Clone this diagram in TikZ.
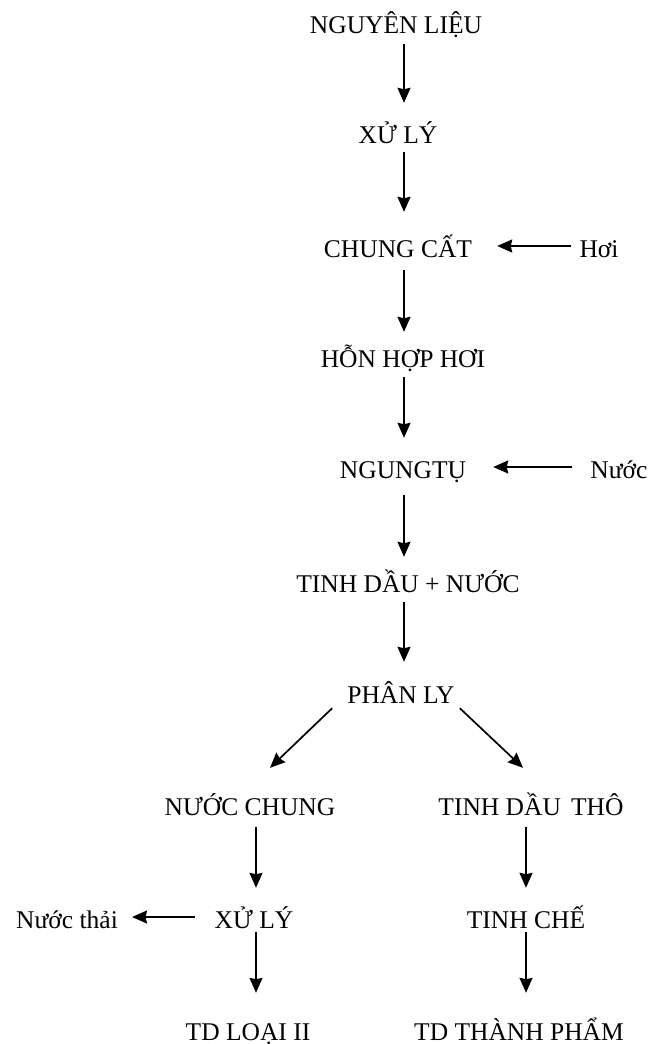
\documentclass[tikz,border=0pt]{standalone}
\usepackage{fontspec}
\setmainfont{Liberation Serif}
\usetikzlibrary{arrows.meta,calc}
\begin{document}
\begin{tikzpicture}[x=1pt,y=-1pt,
  lbl/.style={inner sep=0pt, text height=22pt, text depth=0pt, anchor=base,
    font=\fontsize{25.5}{30}\selectfont},
  flow/.style={line width=1.7pt, -{Stealth[length=15pt,width=13pt,inset=1.5pt]}},
  down/.style={flow, shorten <=11pt, shorten >=18pt}]
\useasboundingbox (0,0) rectangle (650,1044);

% column guides for the vertical arrows
\coordinate (ax) at (404,0);
\coordinate (lx) at (256,0);
\coordinate (rx) at (526,0);

% main column
\node[lbl] (nl)    at (396,33)  {NGUYÊN LIỆU};
\node[lbl] (xl)    at (398,143) {XỬ LÝ};
\node[lbl] (cc)    at (398,257) {CHUNG CẤT};
\node[lbl] (hoi)   at (599,257) {Hơi};
\node[lbl] (hh)    at (403,367) {HỖN HỢP HƠI};
\node[lbl] (nt)    at (403,478) {NGUNGTỤ};
\node[lbl] (nuoc)  at (619,478) {Nước};
\node[lbl] (tdn)   at (408,592) {TINH DẦU + NƯỚC};
\node[lbl] (pl)    at (401,703) {PHÂN LY};

% left branch
\node[lbl] (nc)    at (250,815)  {NƯỚC CHUNG};
\node[lbl] (xl2)   at (254,928)  {XỬ LÝ};
\node[lbl] (thai)  at (67,928)   {Nước thải};
\node[lbl] (loai2) at (248,1040) {TD LOẠI II};

% right branch
\node[lbl] (tdt)   at (531,815)  {TINH DẦU\hspace{0.15em} THÔ};
\node[lbl] (tc)    at (526,928)  {TINH CHẾ};
\node[lbl] (tp)    at (519,1040) {TD THÀNH PHẨM};

% main flow
\draw[down] (nl.south -| ax) -- (xl.north -| ax);
\draw[down, shorten <=9pt, shorten >=23pt] (xl.south -| ax) -- (cc.north -| ax);
\draw[down, shorten <=13pt, shorten >=13pt] (cc.south -| ax) -- (hh.north -| ax);
\draw[down, shorten <=10pt] (hh.south -| ax) -- (nt.north -| ax);
\draw[down, shorten <=17pt, shorten >=13pt] (nt.south -| ax) -- (tdn.north -| ax);
\draw[down, shorten <=10pt, shorten >=19pt] (tdn.south -| ax) -- (pl.north -| ax);

% side inputs
\draw[flow, shorten <=8pt, shorten >=25pt] (hoi.west) -- (cc.east);
\draw[flow, shorten <=18pt, shorten >=27pt] (nuoc.west) -- (nt.east);

% separation
\draw[flow] ($(pl.south west)+(-15,5)$) -- ($(nc.north)+(20,-25)$);
\draw[flow] ($(pl.south east)+(5,5)$) -- ($(tdt.north)+(-8,-25)$);

% branches
\draw[down, shorten <=12pt] (nc.south -| lx) -- (xl2.north -| lx);
\draw[down, shorten <=4pt, shorten >=25pt] (xl2.south -| lx) -- (loai2.north -| lx);
\draw[flow, shorten <=20pt, shorten >=14pt] (xl2.west) -- (thai.east);

\draw[down, shorten <=12pt] (tdt.south -| rx) -- (tc.north -| rx);
\draw[down, shorten <=4pt, shorten >=25pt] (tc.south -| rx) -- (tp.north -| rx);
\end{tikzpicture}
\end{document}
